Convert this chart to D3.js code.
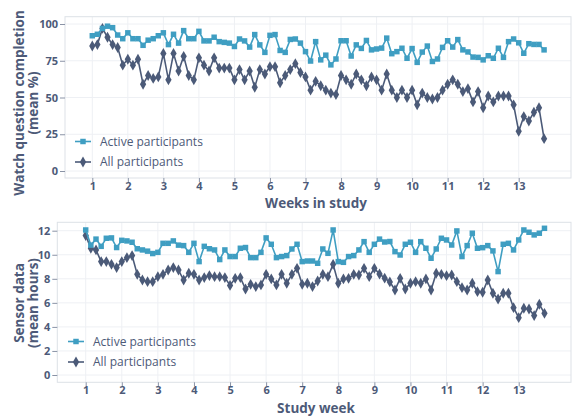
<!DOCTYPE html>
<html><head><meta charset="utf-8">
<script src="https://cdn.jsdelivr.net/npm/d3@7"></script>
<style>
html,body{margin:0;padding:0;background:#fff;}
svg{display:block;font-family:"Open Sans","Noto Sans",sans-serif;}
</style></head>
<body><svg id="c" width="580" height="420"></svg>
<script>
// ---- data ----
const seriesNames = ["Active participants", "All participants"];
const weekTicks = [1,2,3,4,5,6,7,8,9,10,11,12,13];
const watchTicks = [0,25,50,75,100];
const sensorTicks = [0,2,4,6,8,10,12];
// daily values, day 0 = start of week 1
const watchActive = [92,93,97,98.5,97.5,92.5,90,94,90,90,
 85.5,89,90,92,94,86,93,87,95.5,90,
 90,95,88.5,88.5,91,88,87.5,87,84.7,89.8,
 88.5,84.3,92.8,85.8,80.7,92.3,92.8,82,80.7,89.5,
 89.8,87,81.2,74.8,88,75.6,78.8,72.2,76.2,88.6,
 88.6,78.2,85.8,83.4,88.8,82.4,83,83.6,90.4,79.8,
 81.2,83.5,76.7,83.3,73.9,80.9,85,74.5,76.2,84.1,
 88.6,84.3,89.4,82.4,81,77.5,77.3,75.6,78.4,76.7,
 83.5,77.3,88,89.8,87.2,80.1,86.6,86.1,86.1,82.4];
const watchAll = [85,86,97,91,86,84,72,76,72,76,
 59,65,63,64,80,62,80,68,78,65,
 62,77,72,68,77,70,70,70,62,69,
 62,68,57,69,66,71,71,60,65,69,
 73,67,64,55,61,58,55,53,52,65,
 62,59,66,62,58,64,62,55,66,55,
 50,55,50,55,45,53,50,49,50,55,
 59,62,59,54,56,47,54,43,51,47,
 51,51,51,45,27,37,34,40,43,22];
const sensorActive = [12.06,10.8,11.3,10.7,11.37,11.4,10.6,11.2,11.15,11.04,
 10.5,10.4,10.3,10.1,10.2,10.95,10.95,11.15,10.8,10.76,
 10.2,10.95,9.43,10.7,10.5,10.4,9.6,10.4,9.85,9.85,
 10.54,10.6,9.76,9.76,10.2,11.4,10.87,9.76,9.85,9.93,
 10.48,10.87,9.43,9.48,9.48,9.29,10.48,10.12,12.06,9.43,
 9.37,9.85,9.93,10.4,11.09,10.2,10.87,11.3,11.06,11.1,
 10.26,9.98,10.87,11.04,10.2,11.09,10.54,9.71,10.48,11.37,
 11.23,10.81,11.98,9.85,10.76,11.79,10.54,10.59,10.76,10.32,
 8.6,10.87,10.95,10.4,11.23,12.06,11.87,11.65,11.79,12.2];
const sensorAll = [11.6,10.54,10.4,9.43,9.43,9.2,8.93,9.43,9.76,9.93,
 8.37,7.9,7.76,7.76,8.18,8.37,8.73,8.93,8.73,7.9,
 8.46,8.37,7.9,8.1,8.27,8.18,8.18,8.1,7.45,8.04,
 8.1,7.15,7.54,7.35,7.49,8.37,7.99,7.49,8.37,7.63,
 8.37,8.87,7.54,7.63,7.35,7.82,8.37,8.18,9.2,7.63,
 7.99,8.04,8.37,8.32,8.87,8.18,8.87,8.4,8.05,7.74,
 7.07,8.04,7.15,7.63,7.76,7.63,7.99,7.07,8.46,8.37,
 8.26,8.32,7.76,7.26,7.07,7.63,6.93,6.88,7.9,6.8,
 6.32,6.8,6.8,5.6,4.77,5.55,5.49,4.94,5.88,5.13];

// ---- style ----
const cActive = "#3f9ec2", cAll = "#4b5a78", cText = "#4d5a78";
const svg = d3.select("#c");

function panel(cfg){
  const g = svg.append("g");
  const x = d3.scaleLinear().domain([1,13]).range([cfg.x1, cfg.x13]);
  const y = d3.scaleLinear().domain([cfg.yMin, cfg.yMax]).range([cfg.y0, cfg.yTop]);
  // grid
  g.append("g").selectAll("line").data(weekTicks).join("line")
    .attr("x1", d=>x(d)).attr("x2", d=>x(d)).attr("y1", cfg.top).attr("y2", cfg.bottom)
    .attr("stroke", "#eef0f4").attr("stroke-width", 1);
  g.append("g").selectAll("line").data(cfg.yTicks).join("line")
    .attr("x1", cfg.left).attr("x2", cfg.right).attr("y1", d=>y(d)).attr("y2", d=>y(d))
    .attr("stroke", "#eef0f4").attr("stroke-width", 1);
  // frame
  g.append("rect").attr("x", cfg.left).attr("y", cfg.top)
    .attr("width", cfg.right-cfg.left).attr("height", cfg.bottom-cfg.top)
    .attr("fill","none").attr("stroke","#dde1e7").attr("stroke-width",1);
  // axes
  const xa = g.append("g").attr("transform", `translate(0,${cfg.bottom})`)
    .call(d3.axisBottom(x).tickValues(weekTicks).tickSize(4).tickPadding(0).tickFormat(d3.format("d")));
  const ya = g.append("g").attr("transform", `translate(${cfg.left},0)`)
    .call(d3.axisLeft(y).tickValues(cfg.yTicks).tickSize(5).tickPadding(2));
  [xa, ya].forEach(a=>{
    a.select(".domain").remove();
    a.selectAll(".tick line").attr("stroke", "#8a93a6");
    a.selectAll("text").attr("fill", cText).attr("font-size", 11).attr("font-weight", 700)
      .attr("font-family", '"Open Sans", sans-serif');
  });
  // lines
  const line = d3.line().x((d,i)=>x(1+i/7)).y(d=>y(d));
  const sets = [{v:cfg.active, c:cActive, sym:d3.symbolSquare, sz:30},
                {v:cfg.all, c:cAll, sym:d3.symbolDiamond, sz:34}];
  sets.slice().reverse().forEach(s=>{
    g.append("path").datum(s.v).attr("d", line).attr("fill","none")
      .attr("stroke", s.c).attr("stroke-width", 1.6);
    g.append("g").selectAll("path").data(s.v).join("path")
      .attr("transform", (d,i)=>`translate(${x(1+i/7)},${y(d)})`)
      .attr("d", d3.symbol().type(s.sym).size(s.sz)).attr("fill", s.c);
  });
  // legend
  sets.forEach((s,i)=>{
    const ly = cfg.legY + i*20.5;
    g.append("line").attr("x1", cfg.legX).attr("x2", cfg.legX+16).attr("y1", ly).attr("y2", ly)
      .attr("stroke", s.c).attr("stroke-width", 1.6);
    g.append("path").attr("transform", `translate(${cfg.legX+8},${ly})`)
      .attr("d", d3.symbol().type(s.sym).size(s.sz)).attr("fill", s.c);
    g.append("text").attr("x", cfg.legX+25).attr("y", ly).attr("dy","0.35em")
      .attr("fill", cText).attr("font-size", 12).text(seriesNames[i]);
  });
  // x title
  g.append("text").attr("x", cfg.titleX).attr("y", cfg.xTitleY).attr("text-anchor","middle")
    .attr("fill", cText).attr("font-size", 13.5).attr("font-weight", 700).text(cfg.xTitle);
  // y title
  const yt = g.append("text").attr("transform", `translate(${cfg.yTitleX},${cfg.yTitleY}) rotate(-90)`)
    .attr("text-anchor","middle").attr("fill", cText).attr("font-size", 13.5).attr("font-weight", 700);
  cfg.yTitle.forEach((t,i)=>yt.append("tspan").attr("x",0).attr("dy", i===0?0:"1.05em").text(t));
}

panel({left:65, right:571, top:16.7, bottom:178, x1:92.3, x13:518.7,
  yMin:0, yMax:100, y0:171, yTop:24, yTicks:watchTicks,
  active:watchActive, all:watchAll, legX:75, legY:141.5,
  xTitle:"Weeks in study", titleX:316, xTitleY:208,
  yTitle:["Watch question completion","(mean %)"], yTitleX:24, yTitleY:103});
panel({left:57.3, right:571, top:222.3, bottom:382.3, x1:85.7, x13:518.7,
  yMin:0, yMax:12, y0:375, yTop:230.7, yTicks:sensorTicks,
  active:sensorActive, all:sensorAll, legX:68, legY:341.5,
  xTitle:"Study week", titleX:316, xTitleY:413,
  yTitle:["Sensor data","(mean hours)"], yTitleX:24, yTitleY:303});
</script></body></html>
